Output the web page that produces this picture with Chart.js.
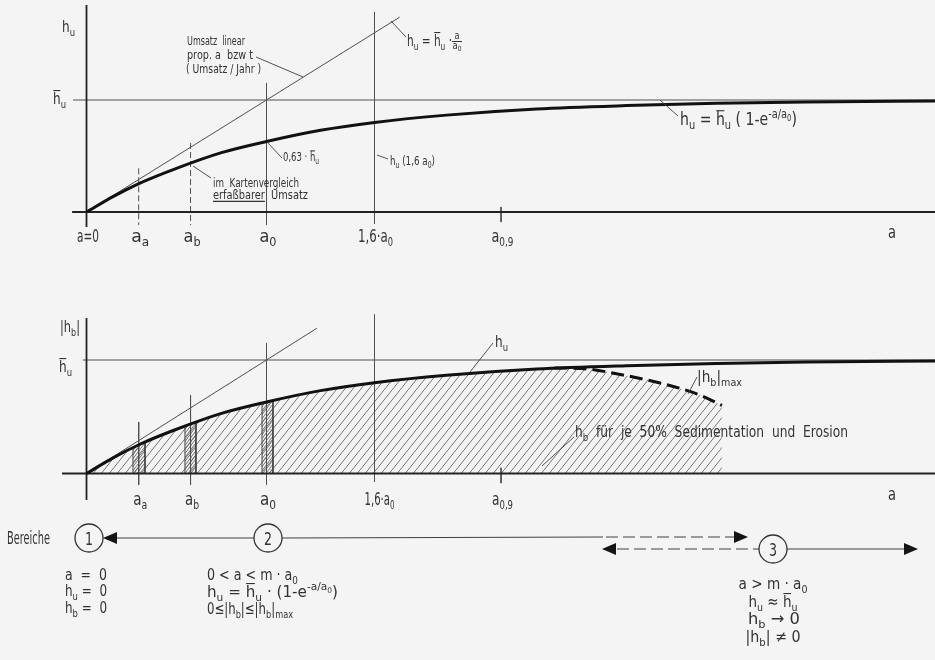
<!DOCTYPE html>
<html>
<head>
<meta charset="utf-8">
<script src="https://cdn.jsdelivr.net/npm/chart.js@4.4.1/dist/chart.umd.min.js"></script>
<style>
  html, body { margin: 0; padding: 0; background: #f4f4f4; }
  canvas { display: block; }
</style>
</head>
<body>
<canvas id="c" width="935" height="660"></canvas>
<script>
// a / a0 of the sampled curve and the turnover h_u / h̄_u read along it
const aPts  = [0, 0.15, 0.3, 0.5, 0.75, 1.0, 1.3, 1.6, 2.0, 2.5, 3.0, 3.5, 4.0, 4.72];
const huPts = [0, 0.14, 0.26, 0.39, 0.53, 0.63, 0.73, 0.80, 0.865, 0.92, 0.95, 0.97, 0.982, 0.991];
// dashed upper bound |h_b|max (lower panel)
const hbMaxA = [2.6, 2.75, 2.98, 3.23, 3.41, 3.53];
const hbMaxV = [0.93, 0.925, 0.868, 0.78, 0.69, 0.60];
// linear turnover h_u = h̄_u · a/a0, end of the drawn line in each panel
const linTopEnd = 1.74;
const linBotEnd = 1.28;
// marked positions on the a axis and their labels
const markA = [0, 0.29, 0.578, 1.0, 1.6, 2.303];
const markLabels = ['a=0', 'a_{a}', 'a_{b}', 'a_{0}', '1,6·a_{0}', 'a_{0,9}'];
// narrow sample strips under the curve (a-range and curve height at both edges)
const stripA = [[0.258, 0.325], [0.547, 0.608], [0.975, 1.036]];
const stripV = [[0.227, 0.278], [0.421, 0.456], [0.623, 0.645]];

const FONT = '"DejaVu Sans", "Liberation Sans", Arial, sans-serif';
const INK = '#333333';

// axis ranges: a in units of a0, h in units of h̄_u (two panels share one canvas)
const X_MIN = -86.5 / 180, X_MAX = (935 - 86.5) / 180;
const Y_TOP = { min: (212 - 660) / 112, max: 212 / 112 };
const Y_BOT = { min: (473.5 - 660) / 113.5, max: 473.5 / 113.5 };

const ctx = document.getElementById('c').getContext('2d');

function hatch(step, h, color, lw) {
  const c = document.createElement('canvas');
  c.width = step; c.height = h;
  const g = c.getContext('2d');
  g.strokeStyle = color; g.lineWidth = lw;
  g.beginPath();
  for (const o of [-step, 0, step]) { g.moveTo(o, h); g.lineTo(o + step, 0); }
  g.stroke();
  return ctx.createPattern(c, 'repeat');
}
const hatchWide = hatch(8, 10, '#6a6a6a', 0.9);
const hatchDense = hatch(3, 4, '#555', 0.8);

const P = (xs, ys) => xs.map((x, i) => ({ x, y: ys[i] }));
function line(data, yAxisID, opts) {
  return Object.assign({
    data, yAxisID, xAxisID: 'x', showLine: true, pointRadius: 0, pointHoverRadius: 0,
    borderColor: '#505050', borderWidth: 1, fill: false, tension: 0, order: 5
  }, opts || {});
}
const vline = (a, y0, y1, axis, opts) => line([{ x: a, y: y0 }, { x: a, y: y1 }], axis, opts);

const datasets = [];
// ---- upper panel: turnover h_u over a ----
datasets.push(line([{ x: 0, y: -0.134 }, { x: 0, y: 1.848 }], 'y', { borderColor: '#222', borderWidth: 1.8 }));
datasets.push(line([{ x: -0.08, y: 0 }, { x: X_MAX, y: 0 }], 'y', { borderColor: '#222', borderWidth: 1.8 }));
datasets.push(line([{ x: -0.075, y: 1 }, { x: X_MAX, y: 1 }], 'y', { borderWidth: 1.2 }));
datasets.push(line([{ x: 0, y: 0 }, { x: linTopEnd, y: linTopEnd }], 'y'));
datasets.push(vline(markA[1], 0.39, -0.116, 'y', { borderDash: [6, 3] }));
datasets.push(vline(markA[2], 0.616, -0.116, 'y', { borderDash: [6, 3] }));
datasets.push(vline(markA[3], 1.152, -0.116, 'y'));
datasets.push(vline(markA[4], 1.786, -0.107, 'y'));
datasets.push(vline(markA[5], 0.045, -0.09, 'y'));
datasets.push(line(P(aPts, huPts), 'y', { borderColor: '#111', borderWidth: 3, cubicInterpolationMode: 'monotone', order: 1 }));

// ---- lower panel: bed change |h_b| ----
const envA = aPts.filter(a => a <= 2.5).concat(hbMaxA);
const envV = huPts.slice(0, envA.length - hbMaxA.length).concat(hbMaxV);
datasets.push(line(P(envA, envV), 'y2', {
  borderColor: 'rgba(0,0,0,0)', borderWidth: 0, fill: 'origin', backgroundColor: hatchWide,
  cubicInterpolationMode: 'monotone', order: 20
}));
stripA.forEach((r, i) => {
  datasets.push(line([{ x: r[0], y: 0 }, { x: r[0], y: stripV[i][0] }, { x: r[1], y: stripV[i][1] }, { x: r[1], y: 0 }], 'y2', {
    borderColor: '#444', borderWidth: 1, fill: 'origin', backgroundColor: hatchDense, order: 15
  }));
});
datasets.push(line([{ x: 0, y: -0.233 }, { x: 0, y: 1.37 }], 'y2', { borderColor: '#222', borderWidth: 1.8 }));
datasets.push(line([{ x: -0.136, y: 0 }, { x: X_MAX, y: 0 }], 'y2', { borderColor: '#222', borderWidth: 1.8 }));
datasets.push(line([{ x: -0.02, y: 1 }, { x: X_MAX, y: 1 }], 'y2', { borderWidth: 1.2 }));
datasets.push(line([{ x: 0, y: 0 }, { x: linBotEnd, y: linBotEnd }], 'y2'));
datasets.push(vline(markA[1], 0.454, -0.10, 'y2'));
datasets.push(vline(markA[2], 0.69, -0.10, 'y2'));
datasets.push(vline(markA[3], 1.15, -0.10, 'y2'));
datasets.push(vline(markA[4], 1.40, -0.075, 'y2'));
datasets.push(vline(markA[5], 0.05, -0.085, 'y2'));
datasets.push(line(P(hbMaxA, hbMaxV), 'y2', { borderColor: '#111', borderWidth: 3, borderDash: [13, 6], cubicInterpolationMode: 'monotone', order: 2 }));
datasets.push(line(P(aPts, huPts), 'y2', { borderColor: '#111', borderWidth: 3, cubicInterpolationMode: 'monotone', order: 1 }));

// ---- text with sub-/superscripts: _{..} sub, ^{..} sup, ~c overline, *{..} underline ----
function parseRich(s, dy = 0, sc = 1, ul = false) {
  const out = []; let buf = '';
  const flush = () => { if (buf) { out.push({ t: buf, dy, sc, ul }); buf = ''; } };
  for (let i = 0; i < s.length;) {
    const c = s[i];
    if ((c === '_' || c === '^' || c === '*') && s[i + 1] === '{') {
      flush();
      let d = 1, j = i + 2;
      while (j < s.length && d) { if (s[j] === '{') d++; else if (s[j] === '}') d--; j++; }
      const inner = s.slice(i + 2, j - 1);
      if (c === '*') out.push(...parseRich(inner, dy, sc, true));
      else out.push(...parseRich(inner, dy + (c === '_' ? 0.24 : -0.42) * sc, sc * 0.7, ul));
      i = j; continue;
    }
    if (c === '~') { flush(); out.push({ t: s[i + 1], dy, sc, ul, bar: true }); i += 2; continue; }
    buf += c; i++;
  }
  flush();
  return out;
}
function drawRich(c, s, x, y, size, o = {}) {
  const segs = parseRich(s);
  let total = 0;
  segs.forEach(g => { c.font = `${size * g.sc}px ${FONT}`; g.w = c.measureText(g.t).width; total += g.w; });
  const k = o.w ? o.w / total : 0.85;
  const x0 = o.align === 'center' ? x - total * k / 2 : x;
  c.save();
  c.translate(x0, y); c.scale(k, 1);
  c.fillStyle = INK; c.strokeStyle = INK; c.textBaseline = 'alphabetic'; c.textAlign = 'left';
  let cx = 0;
  segs.forEach(g => {
    c.font = `${size * g.sc}px ${FONT}`;
    c.fillText(g.t, cx, g.dy * size);
    c.lineWidth = 1.1;
    if (g.bar) {
      const yb = g.dy * size - size * g.sc * 0.84;
      c.beginPath(); c.moveTo(cx + 0.5, yb); c.lineTo(cx + g.w - 0.5, yb); c.stroke();
    }
    if (g.ul) {
      const yu = g.dy * size + size * 0.2;
      c.beginPath(); c.moveTo(cx, yu); c.lineTo(cx + g.w, yu); c.stroke();
    }
    cx += g.w;
  });
  c.restore();
  return x0 + total * k;
}
function leader(c, x1, y1, x2, y2) {
  c.save(); c.strokeStyle = '#404040'; c.lineWidth = 0.9;
  c.beginPath(); c.moveTo(x1, y1); c.lineTo(x2, y2); c.stroke(); c.restore();
}
function arrowHead(c, tip, y, dir) {
  c.beginPath(); c.moveTo(tip, y); c.lineTo(tip - dir * 14, y - 6); c.lineTo(tip - dir * 14, y + 6); c.closePath(); c.fill();
}
function circleNum(c, x, y, n) {
  c.save(); c.strokeStyle = '#333'; c.lineWidth = 1.3;
  c.beginPath(); c.arc(x, y, 14, 0, Math.PI * 2); c.stroke(); c.restore();
  drawRich(c, n, x, y + 6.5, 17, { align: 'center', w: 8 });
}

const background = {
  id: 'background',
  beforeDraw(chart) {
    const c = chart.ctx;
    c.save(); c.fillStyle = '#f4f4f4'; c.fillRect(0, 0, chart.width, chart.height); c.restore();
  }
};

const annotations = {
  id: 'annotations',
  afterDraw(chart) {
    const c = chart.ctx;
    const xs = chart.scales.x;
    const X = v => xs.getPixelForValue(v);

    // upper panel
    drawRich(c, 'h_{u}', 62, 32, 16, { w: 13 });
    drawRich(c, '~h_{u}', 53, 104, 16, { w: 13 });
    drawRich(c, 'Umsatz  linear', 187, 45, 12, { w: 58 });
    drawRich(c, 'prop. a  bzw t', 187, 59, 12, { w: 66 });
    drawRich(c, '( Umsatz / Jahr )', 186, 73, 12, { w: 75 });
    leader(c, 256, 57, 303, 77);
    const fx = drawRich(c, 'h_{u} = ~h_{u} ·', 407, 46, 16, { w: 45 });
    drawRich(c, 'a', fx + 5, 39, 10, { align: 'center', w: 5 });
    c.save(); c.strokeStyle = INK; c.lineWidth = 1; c.beginPath(); c.moveTo(fx, 41.5); c.lineTo(fx + 10, 41.5); c.stroke(); c.restore();
    drawRich(c, 'a_{0}', fx + 5, 48.5, 10, { align: 'center', w: 9 });
    leader(c, 391, 21, 406, 37);
    drawRich(c, '0,63 · ~h_{u}', 283, 161, 12, { w: 36 });
    leader(c, 268, 143, 282, 158);
    drawRich(c, 'im  Kartenvergleich', 213, 187, 12, { w: 86 });
    drawRich(c, '*{erfaßbarer}  Umsatz', 213, 199, 12, { w: 95 });
    leader(c, 193, 166, 211, 178);
    drawRich(c, 'h_{u} (1,6 a_{0})', 390, 165, 12, { w: 45 });
    leader(c, 377, 155, 388, 159);
    drawRich(c, 'h_{u} = ~h_{u} ( 1-e^{-a/a_{0}})', 680, 125, 17, { w: 117 });
    leader(c, 660, 100, 678, 116);
    markLabels.forEach((t, i) => drawRich(c, t, X(markA[i]) + (i === 4 ? 1 : 1.5), 242, 17, { align: 'center' , w: [22, 18, 17, 17, 35, 22][i] }));
    drawRich(c, 'a', 892, 238, 17, { align: 'center', w: 8 });

    // lower panel
    drawRich(c, '|h_{b}|', 60, 332, 16, { w: 20 });
    drawRich(c, '~h_{u}', 59, 372, 16, { w: 13 });
    drawRich(c, 'h_{u}', 495, 347, 16, { w: 13 });
    leader(c, 470, 372, 493, 343);
    drawRich(c, '|h_{b}|_{max}', 697, 382, 15, { w: 45 });
    leader(c, 688, 394, 697, 377);
    drawRich(c, 'h_{b}  für  je  50%  Sedimentation  und  Erosion', 575, 437, 16, { w: 273 });
    leader(c, 542, 466, 574, 437);
    markLabels.forEach((t, i) => {
      if (i === 0) return;
      drawRich(c, t, X(markA[i]) + (i === 4 ? 5 : 1.5), 505, 17, { align: 'center', w: [22, 14, 14, 16, 30, 21][i] });
    });
    drawRich(c, 'a', 892, 500, 17, { align: 'center', w: 8 });

    // ranges 1 – 3 along the a axis
    c.save();
    c.fillStyle = '#222'; c.strokeStyle = '#404040'; c.lineWidth = 1.1;
    drawRich(c, 'Bereiche', 7, 544, 17, { w: 43 });
    circleNum(c, 89, 538, '1');
    circleNum(c, 268, 538, '2');
    circleNum(c, 773, 549, '3');
    c.fillStyle = '#151515';
    arrowHead(c, 103, 538, -1);
    c.beginPath(); c.moveTo(117, 538); c.lineTo(254, 538); c.moveTo(282, 538); c.lineTo(603, 537); c.stroke();
    c.setLineDash([12, 5]);
    c.beginPath(); c.moveTo(606, 537); c.lineTo(735, 537); c.stroke();
    c.beginPath(); c.moveTo(617, 549); c.lineTo(759, 549); c.stroke();
    c.setLineDash([]);
    arrowHead(c, 748, 537, 1);
    arrowHead(c, 602, 549, -1);
    c.beginPath(); c.moveTo(787, 549); c.lineTo(905, 549); c.stroke();
    arrowHead(c, 918, 549, 1);
    c.restore();

    drawRich(c, 'a  =  0', 65, 580, 16, { w: 42 });
    drawRich(c, 'h_{u} =  0', 65, 596, 16, { w: 42 });
    drawRich(c, 'h_{b} =  0', 65, 613, 16, { w: 42 });
    drawRich(c, '0 < a < m · a_{0}', 207, 580, 16, { w: 91 });
    drawRich(c, 'h_{u} = ~h_{u} · (1-e^{-a/a_{0}})', 207, 597, 16, { w: 131 });
    drawRich(c, '0≤|h_{b}|≤|h_{b}|_{max}', 207, 614, 16, { w: 86 });
    drawRich(c, 'a > m · a_{0}', 773, 589, 16, { align: 'center', w: 69 });
    drawRich(c, 'h_{u} ≈ ~h_{u}', 773, 607, 16, { align: 'center', w: 49 });
    drawRich(c, 'h_{b} → 0', 774, 624, 16, { align: 'center', w: 52 });
    drawRich(c, '|h_{b}| ≠ 0', 773, 642, 16, { align: 'center', w: 55 });
  }
};

new Chart(ctx, {
  type: 'line',
  data: { datasets },
  options: {
    responsive: false,
    animation: false,
    events: [],
    layout: { padding: 0 },
    plugins: { legend: { display: false }, tooltip: { enabled: false } },
    scales: {
      x: { type: 'linear', min: X_MIN, max: X_MAX, display: false },
      y: { type: 'linear', min: Y_TOP.min, max: Y_TOP.max, display: false },
      y2: { type: 'linear', min: Y_BOT.min, max: Y_BOT.max, display: false }
    }
  },
  plugins: [background, annotations]
});
</script>
</body>
</html>
